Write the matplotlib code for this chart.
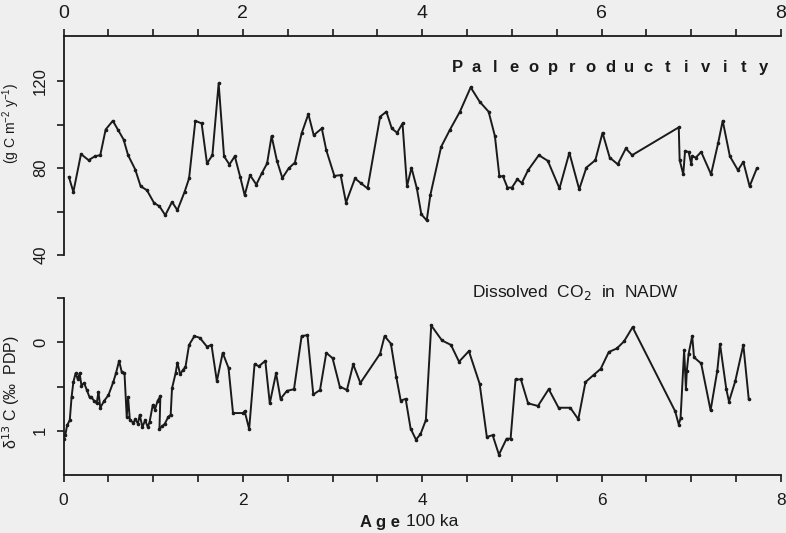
import matplotlib
matplotlib.use("Agg")
import matplotlib.pyplot as plt
from matplotlib.ticker import MultipleLocator, FixedLocator

plt.rcParams['font.family'] = ['Liberation Sans', 'DejaVu Sans']

# Paleoproductivity (g C m-2 y-1) vs age (100 ka)
prod_age = [0.06, 0.11, 0.195, 0.28, 0.35, 0.41, 0.47, 0.55, 0.61, 0.67, 0.72, 0.80, 0.86, 0.93,
            1.01, 1.07, 1.135, 1.21, 1.27, 1.35, 1.40, 1.47, 1.54, 1.60, 1.66, 1.73, 1.79, 1.85,
            1.91, 1.97, 2.02, 2.08, 2.15, 2.21, 2.27, 2.32, 2.38, 2.44, 2.51, 2.58, 2.655, 2.73,
            2.79, 2.88, 2.93, 3.02, 3.09, 3.15, 3.25, 3.32, 3.39, 3.53, 3.60, 3.66, 3.72, 3.78,
            3.83, 3.88, 3.94, 3.99, 4.05, 4.09, 4.21, 4.31, 4.42, 4.54, 4.64, 4.74, 4.81, 4.86,
            4.90, 4.95, 5.00, 5.06, 5.11, 5.18, 5.30, 5.40, 5.53, 5.64, 5.75, 5.83, 5.93, 6.01,
            6.09, 6.18, 6.27, 6.34, 6.86, 6.87, 6.91, 6.93, 6.97, 7.00, 7.01, 7.05, 7.11, 7.22,
            7.30, 7.35, 7.43, 7.52, 7.58, 7.65, 7.73]
prod_val = [75.9, 69.0, 86.4, 83.6, 85.4, 85.9, 97.7, 101.7, 97.4, 93.1, 85.9, 79.3, 71.6, 69.8,
            63.9, 62.4, 58.3, 64.4, 60.6, 69.0, 75.2, 101.7, 100.5, 82.1, 85.9, 118.9, 85.4, 81.6,
            85.4, 75.9, 67.5, 76.7, 72.4, 77.5, 82.1, 94.7, 83.3, 75.4, 79.8, 82.5, 95.9, 104.8,
            95.1, 98.2, 88.2, 76.4, 76.7, 64.1, 75.2, 72.9, 70.6, 103.6, 105.9, 98.2, 96.2, 100.5,
            71.6, 80.1, 70.6, 58.7, 55.9, 67.5, 89.7, 97.7, 105.9, 117.1, 110.5, 105.9, 94.7, 76.2,
            76.2, 71.0, 71.0, 74.8, 73.1, 79.0, 85.9, 83.3, 70.6, 87.0, 70.2, 80.2, 83.6, 96.2,
            84.8, 81.7, 89.0, 85.9, 98.7, 83.6, 77.1, 87.7, 87.4, 81.7, 85.4, 84.8, 87.4, 77.1,
            91.6, 101.7, 85.4, 79.0, 82.8, 71.6, 79.8]

# delta13C (per mil PDB) vs age (100 ka)
d13c_age = [0.0, 0.02, 0.04, 0.07, 0.09, 0.11, 0.135, 0.16, 0.18, 0.20, 0.23, 0.26, 0.29, 0.31,
            0.34, 0.37, 0.39, 0.41, 0.455, 0.50, 0.555, 0.585, 0.62, 0.65, 0.68, 0.705, 0.72, 0.74,
            0.78, 0.80, 0.83, 0.85, 0.88, 0.91, 0.94, 0.96, 0.995, 1.02, 1.05, 1.08, 1.07, 1.10,
            1.13, 1.17, 1.195, 1.21, 1.25, 1.27, 1.30, 1.335, 1.36, 1.40, 1.46, 1.52, 1.60, 1.65,
            1.71, 1.775, 1.84, 1.89, 2.00, 2.02, 2.07, 2.13, 2.18, 2.25, 2.30, 2.37, 2.42, 2.49,
            2.57, 2.655, 2.72, 2.785, 2.86, 2.93, 3.00, 3.08, 3.16, 3.23, 3.31, 3.53, 3.58, 3.65,
            3.71, 3.76, 3.815, 3.87, 3.93, 3.98, 4.04, 4.10, 4.22, 4.32, 4.41, 4.52, 4.64, 4.72,
            4.785, 4.855, 4.94, 4.985, 5.04, 5.10, 5.18, 5.29, 5.41, 5.52, 5.65, 5.74, 5.82, 5.91,
            5.99, 6.08, 6.17, 6.25, 6.345, 6.82, 6.86, 6.88, 6.92, 6.94, 6.95, 6.97, 7.01, 7.03,
            7.11, 7.215, 7.29, 7.32, 7.39, 7.42, 7.49, 7.58, 7.64]
d13c_val = [1.09, 1.05, 0.94, 0.88, 0.62, 0.45, 0.35, 0.42, 0.35, 0.49, 0.46, 0.54, 0.62, 0.62,
            0.66, 0.69, 0.56, 0.74, 0.66, 0.60, 0.45, 0.35, 0.21, 0.34, 0.35, 0.84, 0.62, 0.88,
            0.91, 0.87, 0.92, 0.82, 0.96, 0.88, 0.96, 0.90, 0.71, 0.76, 0.66, 0.61, 0.98, 0.95,
            0.92, 0.84, 0.82, 0.52, 0.35, 0.23, 0.36, 0.31, 0.28, 0.03, -0.07, -0.05, 0.05, 0.03,
            0.44, 0.12, 0.29, 0.80, 0.80, 0.78, 0.98, 0.25, 0.27, 0.21, 0.69, 0.35, 0.64, 0.55,
            0.53, -0.07, -0.08, 0.59, 0.54, 0.12, 0.18, 0.50, 0.54, 0.25, 0.46, 0.13, -0.07, 0.015,
            0.39, 0.66, 0.64, 0.975, 1.10, 1.04, 0.88, -0.19, -0.02, 0.03, 0.22, 0.10, 0.47, 1.07,
            1.05, 1.27, 1.09, 1.09, 0.42, 0.42, 0.69, 0.72, 0.53, 0.74, 0.74, 0.87, 0.45, 0.37,
            0.30, 0.11, 0.07, -0.01, -0.17, 0.78, 0.93, 0.86, 0.09, 0.53, 0.32, 0.13, -0.07, 0.17,
            0.24, 0.77, 0.32, 0.02, 0.53, 0.67, 0.44, 0.03, 0.64]

xlabels = ['0', '2', '4', '6', '8']
prod_ticks = [40, 80, 120]
d13c_ticks = [0, 1]
title_top = 'Paleoproductivity'

W, H = 786, 533
fig = plt.figure(figsize=(W / 100, H / 100), dpi=100)
fig.patch.set_facecolor('#efefef')

def frac_box(l, t, r, b):
    return [l / W, 1 - b / H, (r - l) / W, (b - t) / H]

ax1 = fig.add_axes(frac_box(63.5, 36, 781, 255))
ax2 = fig.add_axes(frac_box(63.5, 298, 781, 475))
lc = '#1a1a1a'
for ax in (ax1, ax2):
    ax.set_facecolor('none')
    ax.set_xlim(0, 8)
    for s in ax.spines.values():
        s.set_color(lc)
        s.set_linewidth(1.3)

# top panel
ax1.plot(prod_age, prod_val, color=lc, lw=1.4, marker='o', ms=1.6)
ax1.set_ylim(40, 140.7)
ax1.spines['bottom'].set_visible(False)
ax1.spines['right'].set_visible(False)
ax1.xaxis.tick_top()
ax1.xaxis.set_major_locator(FixedLocator([0, 2, 4, 6, 8]))
ax1.set_xticklabels(xlabels)
ax1.xaxis.set_minor_locator(MultipleLocator(0.5))
ax1.yaxis.set_major_locator(FixedLocator(prod_ticks))
ax1.yaxis.set_minor_locator(FixedLocator([60, 100]))
ax1.set_yticklabels([str(v) for v in prod_ticks], rotation=90, va='center')
ax1.tick_params(which='both', direction='out', length=5, width=1.2, color=lc,
                labelsize=12, labelcolor=lc)
ax1.tick_params(axis='x', pad=5, labelsize=14)
ax1.tick_params(axis='y', pad=6)
ax1.set_ylabel('(g C m$^{\\mathregular{-2}}$ y$^{\\mathregular{-1}}$)', fontsize=10, color=lc)
ax1.yaxis.set_label_coords(-0.058, 0.60)
# spaced-out title letters
n = len(title_top)
x0, x1 = (457 - 63.5) / 717.5, (763 - 63.5) / 717.5
for i, ch in enumerate(title_top):
    ax1.text(x0 + (x1 - x0) * i / (n - 1), 0.854, ch, transform=ax1.transAxes,
             ha='center', va='center', fontsize=12, fontweight='bold', color=lc)

# bottom panel
ax2.plot(d13c_age, d13c_val, color=lc, lw=1.4, marker='o', ms=1.6)
ax2.set_ylim(1.5, -0.5)
ax2.spines['top'].set_visible(False)
ax2.spines['right'].set_visible(False)
ax2.xaxis.set_major_locator(FixedLocator([0, 2, 4, 6, 8]))
ax2.set_xticklabels(xlabels)
ax2.xaxis.set_minor_locator(MultipleLocator(0.5))
ax2.yaxis.set_major_locator(FixedLocator(d13c_ticks))
ax2.yaxis.set_minor_locator(FixedLocator([-0.5, 0.5]))
ax2.set_yticklabels([str(v) for v in d13c_ticks], rotation=90, va='center')
ax2.tick_params(which='both', direction='out', length=5, width=1.2, color=lc,
                labelsize=12, labelcolor=lc)
ax2.tick_params(axis='x', pad=8, labelsize=12.5)
ax2.tick_params(axis='y', pad=6)
ax2.set_ylabel('δ$^{13}$ C (‰  PDP)', fontsize=11.5, color=lc)
ax2.yaxis.set_label_coords(-0.058, 0.47)
ax2.text(0.714, 1.03, 'Dissolved  CO$_2$  in  NADW', transform=ax2.transAxes,
         ha='center', va='center', fontsize=12.5, color=lc)

fig.text(400 / W, 1 - 522 / H, 'A g e', ha='right', va='center', fontsize=12,
         fontweight='bold', color=lc)
fig.text(406 / W, 1 - 522 / H, '100 ka', ha='left', va='center', fontsize=12.5, color=lc)

fig.savefig('out.png', dpi=100, facecolor=fig.get_facecolor())
